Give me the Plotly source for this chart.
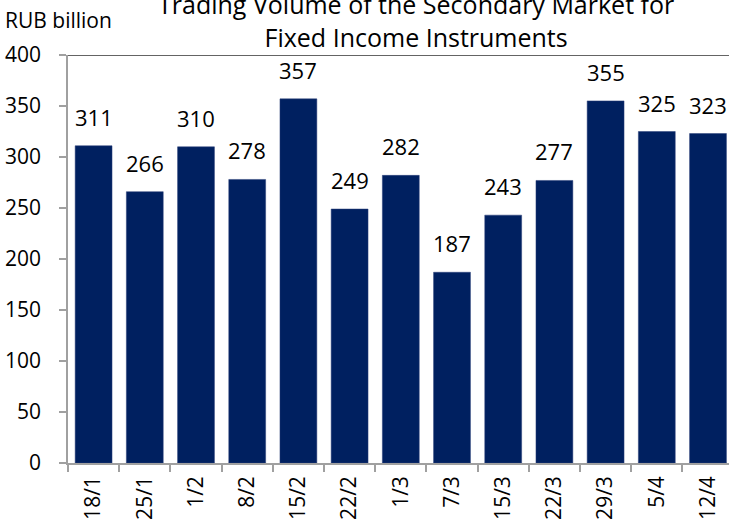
import plotly.graph_objects as go

categories = ["18/1", "25/1", "1/2", "8/2", "15/2", "22/2", "1/3", "7/3", "15/3", "22/3", "29/3", "5/4", "12/4"]
volumes = [311, 266, 310, 278, 357, 249, 282, 187, 243, 277, 355, 325, 323]
y_ticks = [0, 50, 100, 150, 200, 250, 300, 350, 400]

W, H = 729, 526
ML, MR, MT, MB = 68, 0, 55, 63
FONT = "Open Sans"

fig = go.Figure(go.Bar(
    x=categories, y=volumes,
    marker=dict(color="#002060", line=dict(color="#2a3f78", width=0.5)),
    hoverinfo="skip",
))

for c, v in zip(categories, volumes):
    fig.add_annotation(
        x=c, y=v, xref="x", yref="y", text=str(v), showarrow=False,
        xanchor="center", yanchor="bottom", yshift=12,
        font=dict(family=FONT, size=22, color="#000000"),
    )

fig.update_layout(
    width=W, height=H,
    margin=dict(l=ML, r=MR, t=MT, b=MB, pad=0, autoexpand=False),
    paper_bgcolor="white", plot_bgcolor="white",
    bargap=0.28, showlegend=False,
    font=dict(family=FONT, color="#000000"),
)
fig.update_xaxes(
    type="category", range=[-0.5, 12.41], automargin=False,
    tickson="boundaries", ticks="outside", ticklen=7, tickcolor="#a0a0a0", tickwidth=1.5,
    showline=True, linecolor="#a0a0a0", linewidth=1.5,
    tickangle=-90, tickfont=dict(family=FONT, size=21, color="#000000"),
    ticklabelstandoff=3,
    showgrid=False, zeroline=False,
)
fig.update_yaxes(
    range=[0, 400], tickvals=y_ticks, ticks="outside", ticklen=7, tickcolor="#a0a0a0", tickwidth=1.5,
    showline=True, linecolor="#a0a0a0", linewidth=1.5, automargin=False,
    tickfont=dict(family=FONT, size=21, color="#000000"),
    ticklabelstandoff=14,
    showgrid=False, zeroline=False,
)
fig.add_shape(type="line", xref="paper", yref="y", x0=0, x1=1, y0=400, y1=400,
              line=dict(color="#303030", width=1.5))
fig.add_annotation(
    text="Trading Volume of the Secondary Market for<br>Fixed Income Instruments",
    xref="paper", yref="paper", x=(416 - ML) / (W - ML - MR), y=1,
    xanchor="center", yanchor="bottom", yshift=-1, showarrow=False,
    font=dict(family=FONT, size=25, color="#000000"), align="center",
)
fig.add_annotation(
    text="RUB billion", xref="paper", yref="paper", x=-ML / (W - ML - MR), y=1,
    xanchor="left", yanchor="bottom", xshift=3, yshift=19, showarrow=False,
    font=dict(family=FONT, size=21, color="#000000"),
)
fig.write_html("out.html", config={"displayModeBar": False},
               post_script="document.body.style.margin='0';document.body.style.overflow='hidden';")
